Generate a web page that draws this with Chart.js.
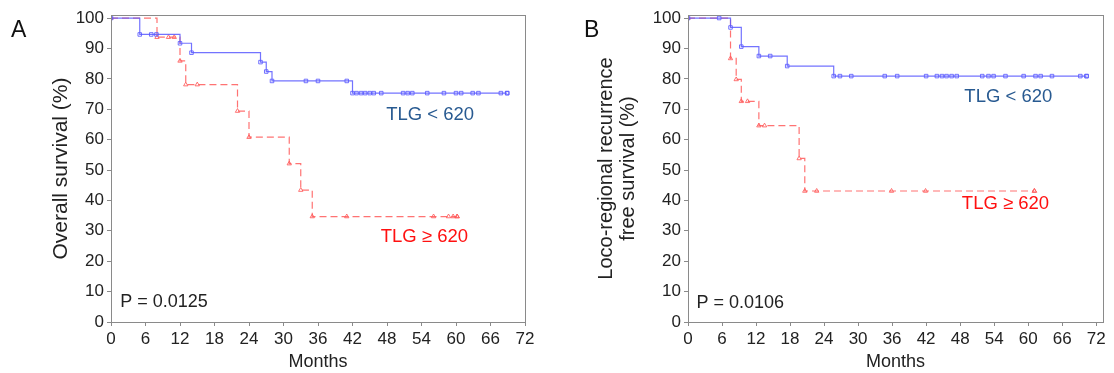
<!DOCTYPE html>
<html>
<head>
<meta charset="utf-8">
<script src="https://cdn.jsdelivr.net/npm/chart.js@4/dist/chart.umd.min.js"></script>
<style>
  html, body { margin: 0; padding: 0; background: #fff; }
  .panel { position: absolute; top: 0; width: 557px; height: 373px; }
</style>
</head>
<body>
<div class="panel" style="left:0"><canvas id="chartA"></canvas></div>
<div class="panel" style="left:557px"><canvas id="chartB"></canvas></div>
<script>
// Panel A - overall survival
const aLowTimes = [0, 5, 12, 14, 26, 27, 28, 42, 68.9];
const aLowSurv = [100, 94.6, 91.7, 88.6, 85.5, 82.4, 79.3, 75.3, 75.3];
const aLowCensor = [7, 7.9, 33.9, 36, 41, 42.7, 43.5, 44.2, 45, 45.7, 47, 50.8, 51.6, 52.4, 55, 57.9, 60, 60.9, 62.9, 63.9, 67.8, 68.9];
const aHighTimes = [0, 8, 12, 13, 22, 24, 31, 33, 35, 60.2];
const aHighSurv = [100, 93.7, 85.9, 78.1, 69.4, 60.8, 52.1, 43.4, 34.7, 34.7];
const aHighCensor = [10, 11, 15, 41, 56.1, 58.7, 59.5, 60.2];

// Panel B - loco-regional recurrence free survival
const bLowTimes = [0, 7.5, 9.4, 12.5, 17.5, 25.7, 70.3];
const bLowSurv = [100, 96.9, 90.6, 87.5, 84.2, 80.9, 80.9];
const bLowCensor = [5.5, 14.5, 26.8, 28.8, 34.7, 36.9, 42, 43.9, 44.8, 45.6, 46.5, 47.4, 51.9, 53, 53.9, 56, 59.2, 61.3, 62.2, 64.2, 69.2, 70.3];
const bHighTimes = [0, 7.5, 8.5, 9.4, 12.5, 19.6, 20.6, 61.1];
const bHighSurv = [100, 86.7, 79.8, 72.6, 64.6, 53.8, 43.1, 43.1];
const bHighCensor = [10.5, 13.5, 22.7, 35.9, 41.9, 61.1];

const xTicks = [0, 6, 12, 18, 24, 30, 36, 42, 48, 54, 60, 66, 72];
const yTicks = [0, 10, 20, 30, 40, 50, 60, 70, 80, 90, 100];

const BLUE = 'rgba(90,90,255,0.85)';
const RED = 'rgba(255,90,90,0.85)';
const FONT = '"Liberation Sans", Arial, sans-serif';

function survAt(times, surv, t) {
  let v = surv[0];
  for (let i = 0; i < times.length; i++) if (times[i] <= t) v = surv[i];
  return v;
}

function curveSets(times, surv, censor, color, shape, dashed) {
  return [{
    data: times.map((t, i) => ({x: t, y: surv[i]})),
    stepped: true,
    borderColor: color,
    borderWidth: 1.2,
    borderDash: dashed ? [7, 4] : [],
    pointStyle: shape,
    pointRadius: 2.5,
    pointBorderWidth: 1,
    pointBorderColor: color,
    pointBackgroundColor: 'rgba(255,255,255,0)'
  }, {
    data: censor.map(t => ({x: t, y: survAt(times, surv, t)})),
    showLine: false,
    pointStyle: shape,
    pointRadius: 2.5,
    pointBorderWidth: 1,
    pointBorderColor: color,
    pointBackgroundColor: 'rgba(255,255,255,0)'
  }];
}

const decor = {
  id: 'decor',
  afterDraw(chart, args, opts) {
    const {ctx, chartArea: a, scales} = chart;
    ctx.save();
    ctx.strokeStyle = '#8a8a8a';
    ctx.lineWidth = 1;
    ctx.strokeRect(a.left + 0.5, a.top + 0.5, a.right - a.left, a.bottom - a.top);
    ctx.fillStyle = '#111';
    ctx.font = '23px ' + FONT;
    ctx.textBaseline = 'alphabetic';
    ctx.textAlign = 'left';
    ctx.fillText(opts.letter, opts.letterX, 37);
    opts.notes.forEach(n => {
      ctx.fillStyle = n.color;
      ctx.font = n.size + 'px ' + FONT;
      ctx.textAlign = n.align;
      ctx.textBaseline = 'middle';
      ctx.fillText(n.text, scales.x.getPixelForValue(n.x), scales.y.getPixelForValue(n.y));
    });
    ctx.restore();
  }
};

function makeChart(id, sets, yTitle, titleFont, titlePad, xMax, yWidth, rightPad, letter, letterX, notes) {
  return new Chart(document.getElementById(id), {
    type: 'line',
    data: {datasets: sets},
    plugins: [decor],
    options: {
      responsive: true,
      maintainAspectRatio: false,
      animation: false,
      layout: {padding: {top: 15, right: rightPad, bottom: 0, left: 0}},
      plugins: {
        legend: {display: false},
        tooltip: {enabled: false},
        decor: {letter: letter, letterX: letterX, notes: notes}
      },
      scales: {
        x: {
          type: 'linear', min: 0, max: xMax,
          afterFit: s => { s.height = 51; },
          afterBuildTicks: s => { s.ticks = xTicks.map(v => ({value: v})); },
          grid: {drawOnChartArea: false, drawTicks: true, tickLength: 4, color: '#8a8a8a'},
          border: {display: true, color: '#8a8a8a'},
          ticks: {color: '#222', font: {family: FONT, size: 17}, padding: 3, maxRotation: 0, autoSkip: false},
          title: {display: true, text: 'Months', color: '#222', font: {family: FONT, size: 18}, padding: {top: 0, bottom: 0}}
        },
        y: {
          type: 'linear', min: 0, max: 101,
          afterFit: s => { s.width = yWidth; },
          afterBuildTicks: s => { s.ticks = yTicks.map(v => ({value: v})); },
          grid: {drawOnChartArea: false, drawTicks: true, tickLength: 4, color: '#8a8a8a'},
          border: {display: true, color: '#8a8a8a'},
          ticks: {color: '#222', font: {family: FONT, size: 17}, padding: 3, autoSkip: false},
          title: {display: true, text: yTitle, color: '#222', font: titleFont, padding: {top: titlePad, bottom: 0}}
        }
      }
    }
  });
}

makeChart('chartA',
  curveSets(aLowTimes, aLowSurv, aLowCensor, BLUE, 'rect', false)
    .concat(curveSets(aHighTimes, aHighSurv, aHighCensor, RED, 'triangle', true)),
  'Overall survival (%)', {family: FONT, size: 21, lineHeight: 1.2}, 48.8,
  72, 111, 32, 'A', 11,
  [{text: 'TLG < 620', x: 55.5, y: 68, color: '#285a91', size: 18.5, align: 'center'},
   {text: 'TLG \u2265 620', x: 54.5, y: 28, color: '#ff1010', size: 18.5, align: 'center'},
   {text: 'P = 0.0125', x: 1.6, y: 6.6, color: '#222', size: 18, align: 'left'}]);

makeChart('chartB',
  curveSets(bLowTimes, bLowSurv, bLowCensor, BLUE, 'rect', false)
    .concat(curveSets(bHighTimes, bHighSurv, bHighCensor, RED, 'triangle', true)),
  ['Loco-regional recurrence', 'free survival (%)'], {family: FONT, size: 20, lineHeight: 1.1}, 38.4,
  73.2, 131, 11, 'B', 27,
  [{text: 'TLG < 620', x: 56.5, y: 74, color: '#285a91', size: 18.5, align: 'center'},
   {text: 'TLG \u2265 620', x: 56, y: 39, color: '#ff1010', size: 18.5, align: 'center'},
   {text: 'P = 0.0106', x: 1.5, y: 6.1, color: '#222', size: 18, align: 'left'}]);
</script>
</body>
</html>
